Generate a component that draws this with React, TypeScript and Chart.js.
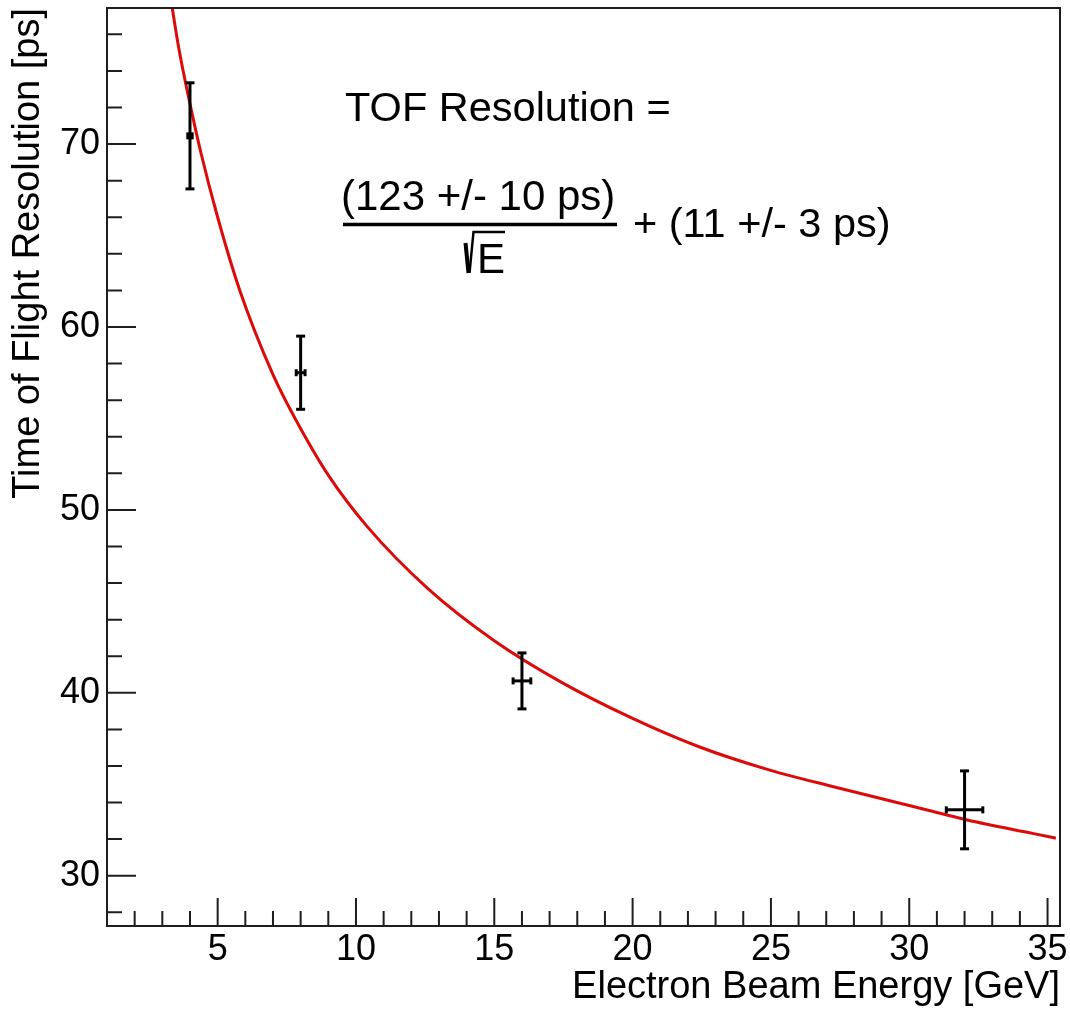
import React, { useEffect, useRef } from 'react';
import { Chart, registerables } from 'chart.js';

Chart.register(...registerables);

// Measured points
const ENERGY = [4, 8, 16, 32];
const ENERGY_ERR = [0.08, 0.16, 0.32, 0.66];
const RESOLUTION = [70.45, 57.5, 40.65, 33.6];
const RESOLUTION_ERR = [2.9, 2.0, 1.53, 2.13];

// Fit curve
const FIT_ENERGY = [3.3, 3.6, 4.0, 4.4, 5.0, 5.8, 7.0, 7.8, 9.0, 10.4, 12.6, 15.0, 17.4, 20.0, 22.4, 24.9, 27.3, 29.7, 32.1, 34.5, 35.3];
const FIT_RESOLUTION = [78.0, 75.2, 72.2, 69.5, 66.0, 62.0, 57.4, 55.0, 51.9, 49.1, 45.7, 42.85, 40.6, 38.6, 37.05, 35.8, 34.85, 33.95, 33.05, 32.3, 32.05];

// Axes
const X_MIN = 1;
const X_MAX = 35.45;
const Y_MIN = 27.25;
const Y_MAX = 77.44;
const X_LABEL_TICKS = [5, 10, 15, 20, 25, 30, 35];
const Y_LABEL_TICKS = [30, 40, 50, 60, 70];
const X_TITLE = 'Electron Beam Energy [GeV]';
const Y_TITLE = 'Time of Flight Resolution [ps]';

// Annotation texts
const ANNOT_LINE1 = 'TOF Resolution =';
const ANNOT_NUM = '(123 +/- 10 ps)';
const ANNOT_DEN = 'E';
const ANNOT_TAIL = '+ (11 +/- 3 ps)';

const FONT = "'Liberation Sans', Arial, Helvetica, sans-serif";

const framePlugin = {
  id: 'frameTicks',
  afterDraw(chart: any) {
    const { ctx, chartArea: a, scales } = chart;
    ctx.save();
    ctx.strokeStyle = '#1e1e1e';
    ctx.lineWidth = 2;
    ctx.beginPath();
    for (const t of scales.x.ticks) {
      const v = t.value;
      if (Math.abs(v - Math.round(v)) > 1e-6) continue;
      const px = scales.x.getPixelForValue(v);
      const len = Math.round(v) % 5 === 0 ? 28 : 15;
      ctx.moveTo(px, a.bottom);
      ctx.lineTo(px, a.bottom - len);
    }
    for (const t of scales.y.ticks) {
      const v = t.value;
      if (Math.abs(v / 2 - Math.round(v / 2)) > 1e-6) continue;
      const py = scales.y.getPixelForValue(v);
      const len = Math.round(v) % 10 === 0 ? 29 : 15;
      ctx.moveTo(a.left, py);
      ctx.lineTo(a.left + len, py);
    }
    ctx.stroke();
    ctx.strokeRect(a.left, a.top, a.right - a.left, a.bottom - a.top);
    ctx.restore();
  },
};

const annotationPlugin = {
  id: 'formula',
  afterDraw(chart: any) {
    const { ctx } = chart;
    ctx.save();
    ctx.fillStyle = '#000';
    ctx.strokeStyle = '#000';
    ctx.textBaseline = 'alphabetic';
    ctx.textAlign = 'left';
    ctx.font = `41.5px ${FONT}`;
    ctx.fillText(ANNOT_LINE1, 345, 121);
    ctx.fillText(ANNOT_TAIL, 633, 236.5);
    ctx.font = `42px ${FONT}`;
    ctx.fillText(ANNOT_NUM, 341, 210);
    // fraction bar
    ctx.lineWidth = 3.5;
    ctx.beginPath();
    ctx.moveTo(343, 224.5);
    ctx.lineTo(617, 224.5);
    ctx.stroke();
    // square root sign
    ctx.lineWidth = 4;
    ctx.beginPath();
    ctx.moveTo(465.5, 243);
    ctx.lineTo(468.5, 273);
    ctx.stroke();
    ctx.lineWidth = 2.5;
    ctx.beginPath();
    ctx.moveTo(469.5, 273);
    ctx.lineTo(473.5, 232);
    ctx.lineTo(505, 232);
    ctx.stroke();
    ctx.font = `42px ${FONT}`;
    ctx.fillText(ANNOT_DEN, 477, 273);
    ctx.restore();
  },
};

export default function App() {
  const ref = useRef<HTMLCanvasElement | null>(null);

  useEffect(() => {
    if (!ref.current) return;
    const datasets: any[] = [];
    ENERGY.forEach((e, i) => {
      const y = RESOLUTION[i];
      const ey = RESOLUTION_ERR[i];
      const ex = ENERGY_ERR[i];
      datasets.push({
        data: [
          { x: e, y: y - ey },
          { x: e, y: y + ey },
        ],
        showLine: true,
        borderColor: '#000',
        borderWidth: 3,
        pointStyle: 'line',
        pointRadius: 4.5,
        pointBorderWidth: 3,
        pointBorderColor: '#000',
        pointRotation: 0,
        tension: 0,
      });
      datasets.push({
        data: [
          { x: e - ex, y },
          { x: e + ex, y },
        ],
        showLine: true,
        borderColor: '#000',
        borderWidth: 3,
        pointStyle: 'line',
        pointRadius: 3.5,
        pointBorderWidth: 3,
        pointBorderColor: '#000',
        pointRotation: 90,
        tension: 0,
      });
    });
    datasets.push({
      data: FIT_ENERGY.map((x, i) => ({ x, y: FIT_RESOLUTION[i] })),
      showLine: true,
      borderColor: '#dd0a0a',
      borderWidth: 3,
      pointRadius: 0,
      cubicInterpolationMode: 'monotone',
    });

    const chart = new Chart(ref.current, {
      type: 'scatter',
      data: { datasets },
      options: {
        animation: false,
        responsive: false,
        devicePixelRatio: 1,
        events: [],
        layout: { padding: { top: 8, right: 10, left: 0, bottom: 0 } },
        plugins: { legend: { display: false }, tooltip: { enabled: false } },
        scales: {
          x: {
            type: 'linear',
            min: X_MIN,
            max: X_MAX,
            grid: { display: false, drawTicks: false },
            border: { display: false },
            ticks: {
              stepSize: 1,
              autoSkip: false,
              includeBounds: false,
              maxRotation: 0,
              minRotation: 0,
              padding: 2,
              color: '#000',
              font: { family: FONT, size: 36 },
              callback: (v: any) => (X_LABEL_TICKS.includes(Number(v)) ? String(v) : ''),
            },
            title: {
              display: true,
              text: X_TITLE,
              align: 'end',
              color: '#000',
              font: { family: FONT, size: 38 },
              padding: { top: 0, bottom: 3 },
            },
            afterFit: (s: any) => {
              s.height = 87;
              s.paddingLeft = 0;
              s.paddingRight = 0;
            },
          },
          y: {
            type: 'linear',
            min: Y_MIN,
            max: Y_MAX,
            grid: { display: false, drawTicks: false },
            border: { display: false },
            ticks: {
              stepSize: 2,
              autoSkip: false,
              includeBounds: false,
              padding: 7,
              color: '#000',
              font: { family: FONT, size: 36 },
              callback: (v: any) => (Y_LABEL_TICKS.includes(Number(v)) ? String(v) : ''),
            },
            title: {
              display: true,
              text: Y_TITLE,
              align: 'end',
              color: '#000',
              font: { family: FONT, size: 38 },
              padding: { top: 6, bottom: 0 },
            },
            afterFit: (s: any) => {
              s.width = 107;
              s.paddingTop = 0;
              s.paddingBottom = 0;
            },
          },
        },
      } as any,
      plugins: [framePlugin, annotationPlugin],
    });
    return () => chart.destroy();
  }, []);

  return (
    <div style={{ position: 'fixed', left: 0, top: 0, width: 1070, height: 1013, background: '#fff' }}>
      <canvas ref={ref} width={1070} height={1013} style={{ display: 'block' }} />
    </div>
  );
}
